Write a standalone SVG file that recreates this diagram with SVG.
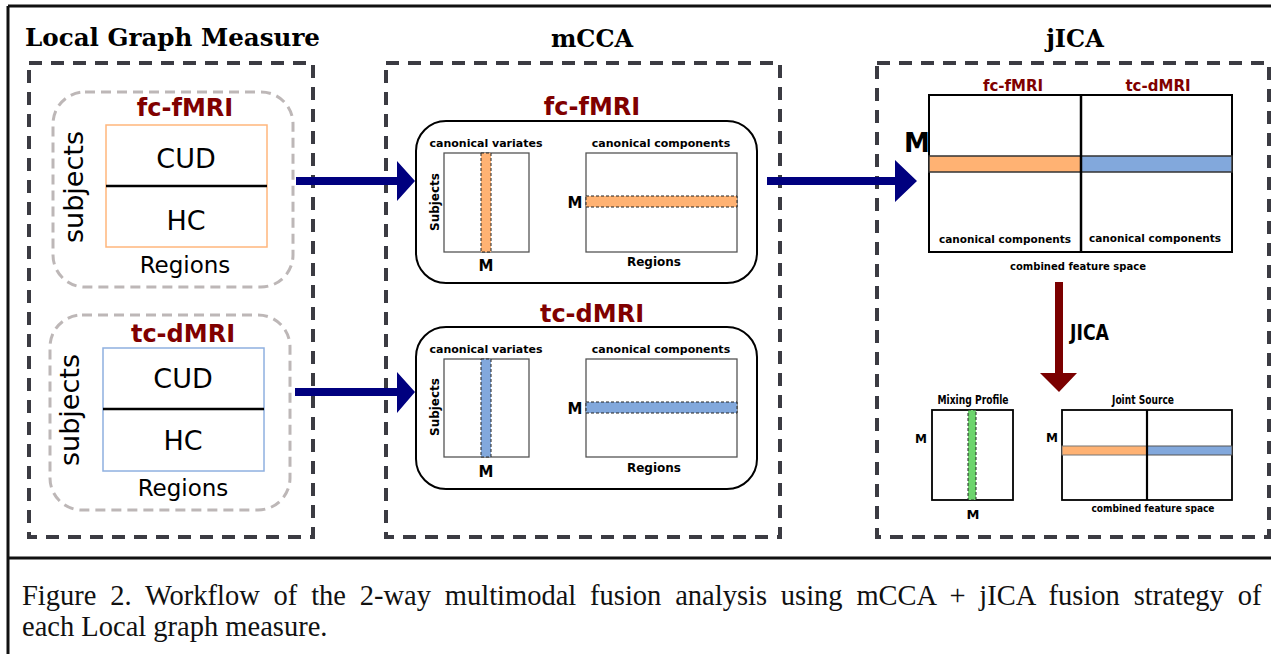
<svg xmlns="http://www.w3.org/2000/svg" width="1271" height="654" viewBox="0 0 1271 654">
<style>
.frame{stroke:#111;stroke-width:3;fill:none}
.panel{fill:none;stroke:#3b3b42;stroke-width:4;stroke-dasharray:13 9}
.soft{fill:none;stroke:#bdb7b7;stroke-width:3;stroke-dasharray:10 6}
.head{font-family:"DejaVu Serif","Liberation Serif",serif;font-weight:bold;font-size:24px;fill:#000}
.mod{font-family:"DejaVu Sans","Liberation Sans",sans-serif;font-weight:bold;fill:#800000}
.lbl{font-family:"DejaVu Sans","Liberation Sans",sans-serif;fill:#000}
.b{font-weight:bold}
.box{fill:#fff;stroke:#000;stroke-width:2}
.mat{fill:#fff;stroke:#555;stroke-width:1.3}
.or{fill:#ffb273}
.bl{fill:#82a8dc}
.gr{fill:#6dd46d}
.dash{stroke:#222;stroke-width:1;stroke-dasharray:3 2}
.cap{font-family:"Liberation Serif","Times New Roman",serif;font-size:28.5px;fill:#111}
</style>

<!-- outer frame -->
<g id="frame">
<line class="frame" x1="8" y1="6" x2="1271" y2="6"/>
<line class="frame" x1="8" y1="6" x2="8" y2="654"/>
<line class="frame" x1="8" y1="558" x2="1271" y2="558"/>
</g>

<!-- panel headings and dashed panels -->
<g id="panel-lgm">
<text class="head" x="25" y="46" textLength="295" lengthAdjust="spacingAndGlyphs">Local Graph Measure</text>
<rect class="panel" x="29" y="63" width="284" height="474"/>
</g>
<g id="panel-mcca">
<text class="head" x="592" y="47" text-anchor="middle">mCCA</text>
<rect class="panel" x="386" y="63" width="394" height="474"/>
</g>
<g id="panel-jica">
<text class="head" x="1075" y="47" text-anchor="middle">jICA</text>
<rect class="panel" x="877" y="63" width="392" height="474"/>
</g>

<!-- Local graph measure: fc-fMRI -->
<g id="lgm-fc">
<rect class="soft" x="53" y="92" width="240" height="195" rx="32"/>
<text class="mod" x="185" y="116" font-size="24" text-anchor="middle">fc-fMRI</text>
<rect x="106" y="125" width="161" height="122" fill="#fff" stroke="#ffb67c" stroke-width="1.5"/>
<line x1="106" y1="186" x2="267" y2="186" stroke="#000" stroke-width="2.5"/>
<text class="lbl" x="186" y="168" font-size="27" text-anchor="middle">CUD</text>
<text class="lbl" x="186" y="230" font-size="27" text-anchor="middle">HC</text>
<text class="lbl" x="185" y="273" font-size="23" text-anchor="middle">Regions</text>
<text class="lbl" transform="translate(83,187) rotate(-90)" font-size="27" text-anchor="middle">subjects</text>
</g>

<!-- Local graph measure: tc-dMRI -->
<g id="lgm-tc">
<rect class="soft" x="50" y="315" width="240" height="195" rx="32"/>
<text class="mod" x="183" y="342" font-size="24" text-anchor="middle">tc-dMRI</text>
<rect x="103" y="348" width="161" height="123" fill="#fff" stroke="#8fb0e0" stroke-width="1.5"/>
<line x1="103" y1="409" x2="264" y2="409" stroke="#000" stroke-width="2.5"/>
<text class="lbl" x="183" y="388" font-size="27" text-anchor="middle">CUD</text>
<text class="lbl" x="183" y="450" font-size="27" text-anchor="middle">HC</text>
<text class="lbl" x="183" y="496" font-size="23" text-anchor="middle">Regions</text>
<text class="lbl" transform="translate(79,410) rotate(-90)" font-size="27" text-anchor="middle">subjects</text>
</g>

<!-- mCCA fc-fMRI -->
<g id="mcca-fc">
<text class="mod" x="592" y="115" font-size="24" text-anchor="middle">fc-fMRI</text>
<rect class="box" x="416" y="121" width="341" height="162" rx="30"/>
<text class="lbl b" x="486" y="147" font-size="11" text-anchor="middle">canonical variates</text>
<text class="lbl b" x="661" y="147" font-size="11" text-anchor="middle">canonical components</text>
<rect class="mat" x="444" y="153" width="85" height="99"/>
<rect class="or dash" x="481" y="153" width="10" height="99"/>
<text class="lbl b" x="486" y="271" font-size="15" text-anchor="middle">M</text>
<text class="lbl b" transform="translate(439,202) rotate(-90)" font-size="12" text-anchor="middle">Subjects</text>
<rect class="mat" x="586" y="153" width="151" height="99"/>
<rect class="or dash" x="586" y="196" width="151" height="11"/>
<text class="lbl b" x="575" y="208" font-size="15" text-anchor="middle">M</text>
<text class="lbl b" x="654" y="266" font-size="12" text-anchor="middle">Regions</text>
</g>

<!-- mCCA tc-dMRI -->
<g id="mcca-tc">
<text class="mod" x="592" y="322" font-size="24" text-anchor="middle">tc-dMRI</text>
<rect class="box" x="416" y="327" width="341" height="162" rx="30"/>
<text class="lbl b" x="486" y="353" font-size="11" text-anchor="middle">canonical variates</text>
<text class="lbl b" x="661" y="353" font-size="11" text-anchor="middle">canonical components</text>
<rect class="mat" x="444" y="359" width="85" height="98"/>
<rect class="bl dash" x="481" y="359" width="10" height="98"/>
<text class="lbl b" x="486" y="477" font-size="15" text-anchor="middle">M</text>
<text class="lbl b" transform="translate(439,407) rotate(-90)" font-size="12" text-anchor="middle">Subjects</text>
<rect class="mat" x="586" y="359" width="151" height="98"/>
<rect class="bl dash" x="586" y="402" width="151" height="11"/>
<text class="lbl b" x="575" y="414" font-size="15" text-anchor="middle">M</text>
<text class="lbl b" x="654" y="472" font-size="12" text-anchor="middle">Regions</text>
</g>

<!-- jICA combined feature space -->
<g id="jica-combined">
<text class="mod" x="1013" y="91" font-size="15" text-anchor="middle">fc-fMRI</text>
<text class="mod" x="1158" y="91" font-size="15" text-anchor="middle">tc-dMRI</text>
<rect x="929" y="95" width="303" height="157" fill="#fff" stroke="#000" stroke-width="2"/>
<rect class="or" x="929" y="156" width="152" height="16" stroke="#333" stroke-width="1.5"/>
<rect class="bl" x="1081" y="156" width="151" height="16" stroke="#333" stroke-width="1.5"/>
<line x1="1081" y1="95" x2="1081" y2="252" stroke="#000" stroke-width="2.5"/>
<text class="lbl b" x="917" y="152" font-size="26" text-anchor="middle">M</text>
<text class="lbl b" x="1005" y="243" font-size="10.5" text-anchor="middle">canonical components</text>
<text class="lbl b" x="1155" y="242" font-size="10.5" text-anchor="middle">canonical components</text>
<text class="lbl b" x="1078" y="270" font-size="10" text-anchor="middle">combined feature space</text>
</g>

<!-- jICA mixing profile -->
<g id="jica-mixing">
<text class="lbl b" x="973" y="404" font-size="11.5" text-anchor="middle" textLength="71" lengthAdjust="spacingAndGlyphs">Mixing Profile</text>
<rect x="932" y="410" width="81" height="90" fill="#fff" stroke="#000" stroke-width="1.8"/>
<rect class="gr dash" x="968" y="410" width="8" height="90"/>
<text class="lbl b" x="921" y="443" font-size="12" text-anchor="middle">M</text>
<text class="lbl b" x="973" y="519" font-size="13" text-anchor="middle">M</text>
</g>

<!-- jICA joint source -->
<g id="jica-joint">
<text class="lbl b" x="1143" y="404" font-size="11.5" text-anchor="middle" textLength="62" lengthAdjust="spacingAndGlyphs">Joint Source</text>
<rect x="1062" y="410" width="170" height="90" fill="#fff" stroke="#000" stroke-width="1.8"/>
<rect class="or" x="1062" y="446" width="85" height="9" stroke="#777" stroke-width="1"/>
<rect class="bl" x="1147" y="446" width="85" height="9" stroke="#555" stroke-width="1"/>
<line x1="1147" y1="410" x2="1147" y2="500" stroke="#000" stroke-width="2.2"/>
<text class="lbl b" x="1052" y="442" font-size="12" text-anchor="middle">M</text>
<text class="lbl b" x="1153" y="512" font-size="10.5" text-anchor="middle" textLength="123" lengthAdjust="spacingAndGlyphs">combined feature space</text>
</g>

<!-- connectors -->
<g id="connectors">
<path d="M296 177 H397 V161 L415 181 L397 201 V185 H296 Z" fill="#00007f"/>
<path d="M295 388 H397 V372 L415 392 L397 413 V396 H295 Z" fill="#00007f"/>
<path d="M767 177 H895 V160 L917 181 L895 202 V185 H767 Z" fill="#00007f"/>
<path d="M1055 282 H1063 V373 H1077 L1059 392 L1040 373 H1055 Z" fill="#7b0000"/>
<text class="lbl b" x="1070" y="340" font-size="21" textLength="39" lengthAdjust="spacingAndGlyphs">JICA</text>
</g>

<!-- caption -->
<g id="caption">
<text class="cap" x="22" y="605" word-spacing="6.7">Figure 2. Workflow of the 2-way multimodal fusion analysis using mCCA + jICA fusion strategy of</text>
<text class="cap" x="22" y="636">each Local graph measure.</text>
</g>
</svg>
